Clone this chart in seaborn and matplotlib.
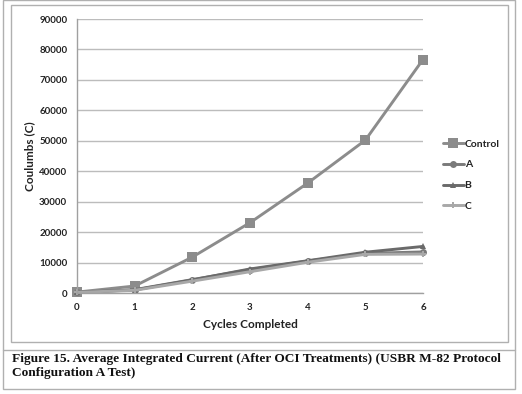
import numpy as np
import pandas as pd
import seaborn as sns
import matplotlib.pyplot as plt
from matplotlib.patches import Rectangle

cycles = [0, 1, 2, 3, 4, 5, 6]
control = [300, 2300, 11800, 23100, 36100, 50200, 76700]
a_vals = [200, 1100, 4400, 7700, 10500, 13000, 13500]
b_vals = [200, 1000, 4300, 7900, 10600, 13400, 15300]
c_vals = [200, 900, 3900, 7000, 10100, 12700, 12800]

series = ["Control", "A", "B", "C"]
df = pd.DataFrame({
    "cycle": cycles * 4,
    "coulombs": control + a_vals + b_vals + c_vals,
    "series": np.repeat(series, len(cycles)),
})

sns.set_theme(style="white")
plt.rcParams["font.family"] = ["Lato", "DejaVu Sans"]

fig = plt.figure(figsize=(5.22, 3.94), dpi=100)
ax = fig.add_axes([0.1475, 0.2563, 0.6628, 0.6954])

palette = {"Control": "#8c8c8c", "A": "#7a7a7a", "B": "#6a6a6a", "C": "#a8a8a8"}
markers = {"Control": "s", "A": "o", "B": "^", "C": "P"}
sns.lineplot(data=df, x="cycle", y="coulombs", hue="series", style="series",
             palette=palette, markers=markers, dashes=False, linewidth=2.1,
             markersize=5, markeredgewidth=0, ax=ax, legend=True)
# bigger square markers for control
for line in ax.lines:
    if line.get_marker() == "s":
        line.set_markersize(7)

ax.set_xlim(0, 6)
ax.set_ylim(0, 90000)
ax.set_yticks(range(0, 90001, 10000))
ax.set_xticks(cycles)
ax.yaxis.grid(True, color="#bcbcbc", linewidth=1)
ax.set_axisbelow(True)
for s in ["top", "right"]:
    ax.spines[s].set_visible(False)
for s in ["left", "bottom"]:
    ax.spines[s].set_color("#a0a0a0")
    ax.spines[s].set_linewidth(1)
ax.tick_params(axis="both", length=0, labelsize=7, labelcolor="#222222", pad=7)
for lbl in ax.get_xticklabels() + ax.get_yticklabels():
    lbl.set_fontweight("bold")
for line in ax.lines:
    line.set_clip_on(False)

ax.set_xlabel("Cycles Completed", fontsize=8.5, fontweight="bold", color="#222222", labelpad=5)
ax.set_ylabel("Coulumbs (C)", fontsize=8.5, fontweight="bold", color="#222222", labelpad=3)

leg = ax.legend(loc="center left", bbox_to_anchor=(1.03, 0.43), frameon=False,
                fontsize=7.5, handlelength=2.0, handletextpad=0.1, labelspacing=1.1)
for t in leg.get_texts():
    t.set_fontweight("bold")
    t.set_color("#222222")

# borders: outer frame, chart frame, caption separator
fig.patches.append(Rectangle((3 / 522, 1 - 389 / 394), 512 / 522, 389 / 394, transform=fig.transFigure,
                             fill=False, edgecolor="#b0b0b0", linewidth=1))
fig.patches.append(Rectangle((11 / 522, 1 - 342 / 394), 497 / 522, 337 / 394, transform=fig.transFigure,
                             fill=False, edgecolor="#b0b0b0", linewidth=1))
fig.lines.append(plt.Line2D([3 / 522, 515 / 522], [1 - 350 / 394] * 2, transform=fig.transFigure,
                            color="#b0b0b0", linewidth=1))

fig.text(12 / 522, 1 - 353 / 394,
         "Figure 15. Average Integrated Current (After OCI Treatments) (USBR M-82 Protocol\nConfiguration A Test)",
         family=["Liberation Serif", "DejaVu Serif"], fontweight="bold", fontsize=9.6,
         va="top", ha="left", linespacing=1.2, color="#111111")

fig.savefig("out.png", dpi=100)
